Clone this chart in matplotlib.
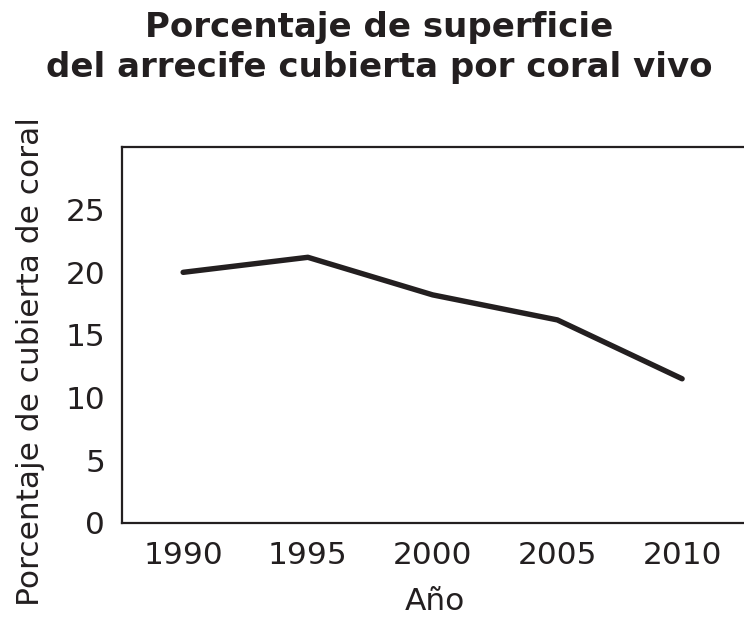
import matplotlib.pyplot as plt

# data
years = [1990, 1995, 2000, 2005, 2010]
coral_cover = [20.0, 21.2, 18.2, 16.2, 11.5]
y_ticks = [0, 5, 10, 15, 20, 25]

plt.rcParams['font.family'] = 'DejaVu Sans'

fig = plt.figure(figsize=(7.44, 6.18), dpi=100)
ax = fig.add_axes([0.164, 0.154, 0.84, 0.608])

ax.plot(years, coral_cover, color='#231f20', linewidth=3.9, solid_capstyle='round')

ax.set_xlim(1987.55, 2012.6)
ax.set_ylim(0, 30)
ax.set_xticks(years)
ax.set_yticks(y_ticks)
ax.tick_params(axis='x', length=0, labelsize=22.5, colors='#231f20', pad=13)
ax.tick_params(axis='y', length=0, labelsize=22.5, colors='#231f20', pad=12)

for side in ['left', 'top', 'bottom']:
    ax.spines[side].set_linewidth(1.6)
    ax.spines[side].set_color('#231f20')
ax.spines['right'].set_visible(False)

ax.set_xlabel('Año', fontsize=22.5, color='#231f20', labelpad=12)
ax.set_ylabel('Porcentaje de cubierta de coral', fontsize=22.5, color='#231f20')
ax.yaxis.set_label_coords(-0.124, 0.428)

fig.suptitle('Porcentaje de superficie\ndel arrecife cubierta por coral vivo',
             x=0.51, y=0.983, fontsize=24.5, fontweight='bold', color='#231f20',
             linespacing=1.3)

fig.savefig('out.png', dpi=100)
